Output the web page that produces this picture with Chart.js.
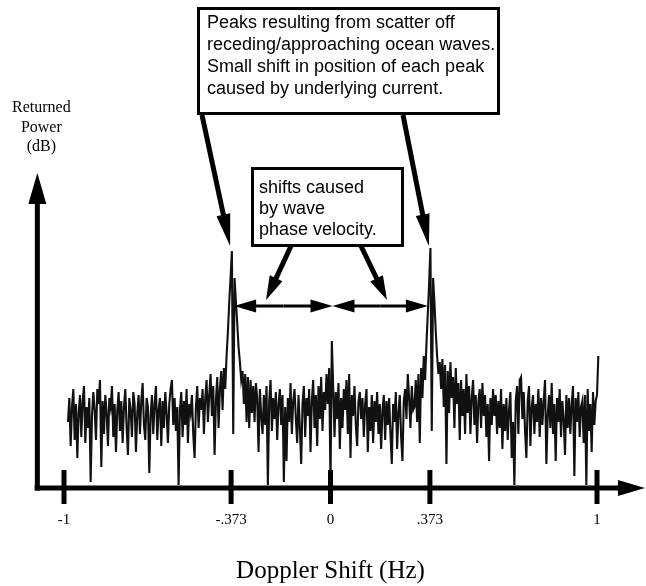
<!DOCTYPE html>
<html><head><meta charset="utf-8">
<script src="https://cdn.jsdelivr.net/npm/chart.js@4.4.1/dist/chart.umd.min.js"></script>
<style>html,body{margin:0;padding:0;background:#fff;}canvas{display:block;}</style>
</head><body>
<canvas id="c" width="646" height="586"></canvas>
<script>
// Doppler spectrum samples (Hz grid start/step) and returned power (dB, arbitrary reference)
const freqStart = -0.985;
const freqStep = 0.005;
const power = [
 22,30,14,27,33,16,28,10,25,31,17,29,34,15,27,20,30,2,24,32,
 26,16,33,28,36,7,29,18,31,25,14,30,27,34,17,28,12,26,32,19,
 29,15,27,33,20,11,30,26,17,32,28,12,25,31,18,29,35,21,16,30,
 27,5,24,31,18,28,34,16,26,30,14,29,20,32,25,15,28,33,36,21,
 30,19,27,1,26,32,17,29,21,33,15,28,25,31,18,10,27,34,20,30,
 26,33,18,30,36,22,31,38,24,34,11,29,37,20,33,39,26,40,33,44,
 52,62,70,79,18,70,62,55,47,42,36,39,28,38,22,37,20,36,25,34,
 22,35,30,12,33,24,18,31,21,34,1,29,36,19,30,23,32,16,28,33,
 21,31,2,27,9,30,22,35,18,29,33,23,15,31,20,8,28,34,17,30,
 24,33,12,29,36,20,31,14,34,23,37,19,32,26,38,28,40,1,49,34,
 17,32,23,35,13,30,20,33,26,36,18,38,10,31,24,34,21,14,29,32,
 23,30,17,28,33,12,27,19,31,15,29,22,32,18,28,13,26,31,16,29,
 21,30,18,8,28,22,32,13,25,31,17,9,29,33,23,38,30,20,34,26,
 27,36,22,38,15,40,30,44,36,48,58,68,80,19,70,62,52,44,38,42,
 33,43,27,41,8,39,25,42,30,37,20,40,28,35,16,36,24,33,18,38,
 25,34,18,30,36,21,31,15,29,33,20,35,24,31,17,28,9,30,21,33,
 24,31,18,29,20,33,13,28,19,30,16,26,32,10,22,1,29,34,18,36,
 37,23,32,19,10,29,34,14,27,31,18,28,22,33,17,30,21,29,36,8,
 24,31,20,35,18,28,9,30,22,33,17,29,23,11,31,20,30,18,28,34,
 4,30,22,32,17,27,29,15,31,1,33,19,28,12,32,21,29,31,44
];
const tickValues = [-1, -0.373, 0, 0.373, 1];
const tickLabels = ['-1', '-.373', '0', '.373', '1'];
const peakFreqs = [-0.373, 0.373];
const yTitleLines = ['Returned', 'Power', '(dB)'];
const xTitle = 'Doppler Shift (Hz)';
const note1Lines = ['Peaks resulting from scatter off', 'receding/approaching ocean waves.', 'Small shift in position of each peak', 'caused by underlying current.'];
const note2Lines = ['shifts caused', 'by wave', 'phase velocity.'];

// axis extents (data units)
const axisFreqMin = -1.11, axisFreqMax = 1.18, axisYAt = -1.1, axisPowerMax = 105;

const points = power.map((p, i) => ({x: +(freqStart + i * freqStep).toFixed(4), y: p}));

function arrow(ctx, x1, y1, x2, y2, lw, hl, hw) {
  const a = Math.atan2(y2 - y1, x2 - x1), c = Math.cos(a), s = Math.sin(a);
  const bx = x2 - hl * c, by = y2 - hl * s;
  ctx.lineWidth = lw; ctx.lineCap = 'butt';
  ctx.beginPath(); ctx.moveTo(x1, y1); ctx.lineTo(bx + c, by + s); ctx.stroke();
  ctx.beginPath(); ctx.moveTo(x2, y2);
  ctx.lineTo(bx - hw * s, by + hw * c); ctx.lineTo(bx + hw * s, by - hw * c);
  ctx.closePath(); ctx.fill();
}

const annot = {
  id: 'annot',
  beforeDraw(chart) {
    const c = chart.ctx; c.save(); c.fillStyle = '#fff'; c.fillRect(0, 0, chart.width, chart.height); c.restore();
  },
  afterDatasetsDraw(chart) {
    const ctx = chart.ctx, xs = chart.scales.x, ys = chart.scales.y;
    const X = v => xs.getPixelForValue(v), Y = v => ys.getPixelForValue(v);
    ctx.save();
    ctx.strokeStyle = '#000'; ctx.fillStyle = '#000';
    const y0 = Y(0);
    // x axis
    arrow(ctx, X(axisFreqMin), y0, X(axisFreqMax), y0, 5, 27, 8);
    // y axis
    arrow(ctx, X(axisYAt), y0 + 2.5, X(axisYAt), Y(axisPowerMax), 5, 31, 9);
    // ticks
    tickValues.forEach(t => ctx.fillRect(X(t) - 2.5, y0 - 18, 5, 34));
    // tick labels
    ctx.font = '15px "Liberation Serif"'; ctx.textAlign = 'center'; ctx.textBaseline = 'middle';
    tickValues.forEach((t, i) => ctx.fillText(tickLabels[i], X(t), y0 + 32));
    ctx.font = '25px "Liberation Serif"';
    ctx.fillText(xTitle, X(0), y0 + 83);
    ctx.font = '16px "Liberation Serif"';
    yTitleLines.forEach((l, i) => ctx.fillText(l, X(axisYAt) + 4, 108 + i * 19.5));
    // note boxes
    ctx.lineWidth = 3;
    ctx.strokeRect(198.5, 8.5, 300, 105);
    ctx.strokeRect(252.5, 168.5, 150, 77);
    ctx.font = '18px "Liberation Sans"'; ctx.textAlign = 'left'; ctx.textBaseline = 'alphabetic';
    note1Lines.forEach((l, i) => ctx.fillText(l, 207, 28 + i * 22));
    note2Lines.forEach((l, i) => ctx.fillText(l, 259, 193 + i * 21));
    // arrows from note 1 to peaks
    arrow(ctx, 202, 115, X(peakFreqs[0]) - 1, 246, 5, 32, 7);
    arrow(ctx, 403, 115, X(peakFreqs[1]) - 1, 246, 5, 32, 7);
    // arrows from note 2
    arrow(ctx, 291, 246, 266, 300, 5, 24, 7);
    arrow(ctx, 361, 246, 387, 300, 5, 24, 7);
    // double arrows: peak to zero, zero to peak
    const ya = 306;
    const segs = [[X(peakFreqs[0]) + 3, X(0) + 2], [X(0) + 2, X(peakFreqs[1]) - 2]];
    segs.forEach(([a, b]) => { const m = (a + b) / 2; arrow(ctx, m, ya, a, ya, 3, 22, 6.5); arrow(ctx, m, ya, b, ya, 3, 22, 6.5); });
    ctx.restore();
  }
};

new Chart(document.getElementById('c'), {
  type: 'line',
  data: { datasets: [{ data: points, borderColor: '#111', borderWidth: 2.1, pointRadius: 0, tension: 0, fill: false }] },
  options: {
    responsive: false, animation: false, events: [],
    layout: { padding: 0 },
    plugins: { legend: { display: false }, tooltip: { enabled: false } },
    scales: {
      x: { type: 'linear', min: -1.24015, max: 1.18387, display: false },
      y: { type: 'linear', min: -32.667, max: 162.667, display: false }
    }
  },
  plugins: [annot]
});
</script>
</body></html>
